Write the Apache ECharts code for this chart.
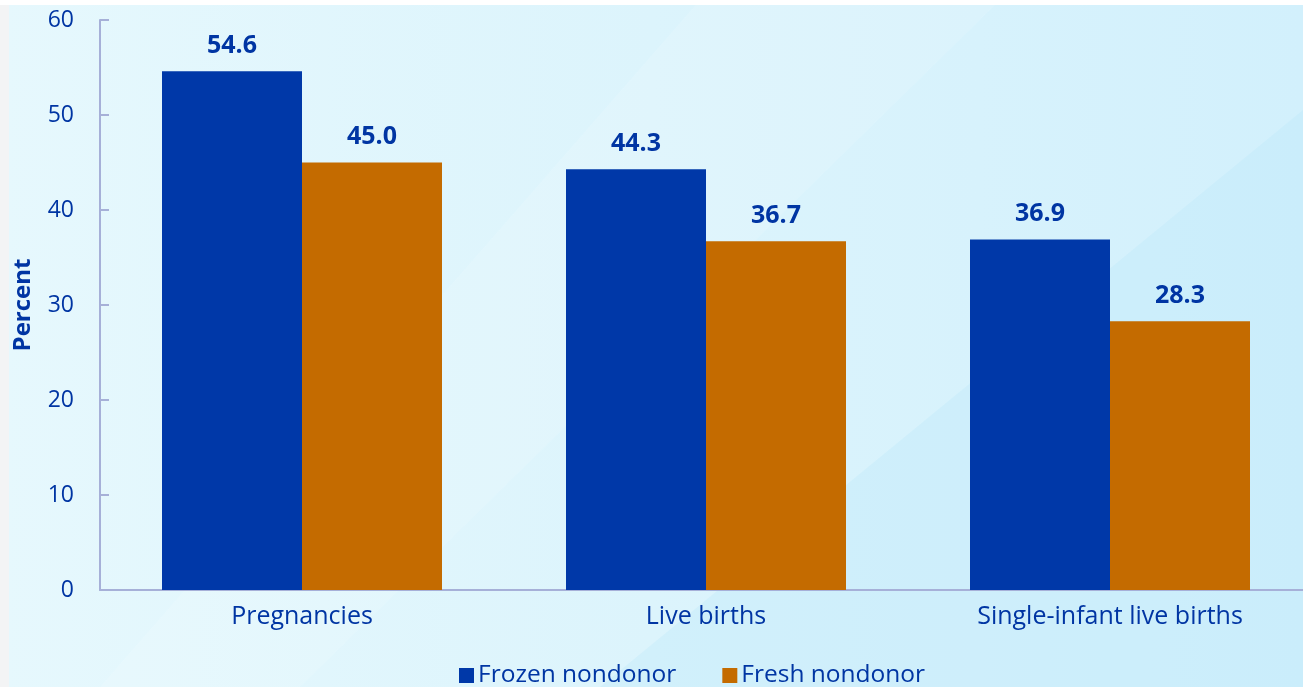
<!DOCTYPE html>
<html>
<head>
<meta charset="utf-8">
<script src="https://cdn.jsdelivr.net/npm/echarts@6/dist/echarts.min.js"></script>
<style>
html,body{margin:0;padding:0;background:#fff;}
#c{width:1303px;height:687px;}
</style>
</head>
<body>
<div id="c"></div>
<script>
const categories = ['Pregnancies', 'Live births', 'Single-infant live births'];
const frozenValues = [54.6, 44.3, 36.9];
const freshValues = [45.0, 36.7, 28.3];
const seriesNames = ['Frozen nondonor', 'Fresh nondonor'];
const yTicks = [0, 10, 20, 30, 40, 50, 60];

const textColor = '#0035a3';
const fontFam = '"Open Sans", "Noto Sans", sans-serif';
const chart = echarts.init(document.getElementById('c'), null, {renderer: 'canvas'});

const option = {
  animation: false,
  backgroundColor: {
    type: 'linear', x: 0, y: 0, x2: 1, y2: 0,
    colorStops: [{offset: 0, color: '#e6f8fd'}, {offset: 0.5, color: '#dcf4fc'}, {offset: 1, color: '#d2f0fc'}]
  },
  graphic: [
    {type: 'rect', left: 0, top: 0, shape: {width: 9, height: 687}, style: {fill: '#f3f4f5'}, z: -1},
    {type: 'rect', left: 0, top: 0, shape: {width: 1303, height: 5}, style: {fill: '#ffffff'}, z: -1},
    {type: 'polygon', shape: {points: [[1303, 110], [1303, 687], [600, 687]]}, style: {fill: 'rgba(190,232,250,0.35)'}, z: -1},
    {type: 'polygon', shape: {points: [[700, 0], [1000, 0], [300, 687], [100, 687]]}, style: {fill: 'rgba(255,255,255,0.12)'}, z: -1}
  ],
  grid: {left: 100, top: 20, width: 1212, height: 570, containLabel: false, outerBoundsMode: 'none'},
  legend: {
    data: seriesNames,
    left: 454, top: 658,
    itemWidth: 15, itemHeight: 15, itemGap: 46,
    icon: 'rect',
    textStyle: {color: textColor, fontSize: 24.5, fontFamily: fontFam, padding: [0, 0, 0, -1]}
  },
  xAxis: {
    type: 'category',
    data: categories,
    axisLine: {lineStyle: {color: '#a6b0d8', width: 2}},
    axisTick: {show: false},
    axisLabel: {color: textColor, fontSize: 25, fontFamily: fontFam, margin: 14}
  },
  yAxis: {
    type: 'value',
    min: 0, max: 60, interval: 10,
    name: 'Percent',
    nameLocation: 'middle',
    nameGap: 65,
    nameRotate: 90,
    nameTextStyle: {color: textColor, fontSize: 24, fontWeight: 'bold', fontFamily: fontFam},
    axisLine: {show: true, lineStyle: {color: '#a6b0d8', width: 2}},
    axisTick: {show: true, inside: true, length: 9, lineStyle: {color: '#a6b0d8', width: 2}},
    splitLine: {show: false},
    axisLabel: {
      color: textColor, fontSize: 23, fontFamily: fontFam, margin: 26,
      formatter: v => yTicks.includes(v) ? String(v) : ''
    }
  },
  series: [
    {
      name: seriesNames[0], type: 'bar', data: frozenValues,
      barWidth: 140, barGap: '0%',
      itemStyle: {color: '#0038a8'},
      label: {show: true, position: 'top', distance: 13, color: textColor, fontSize: 25, fontWeight: 'bold', fontFamily: fontFam,
        formatter: p => p.value.toFixed(1)}
    },
    {
      name: seriesNames[1], type: 'bar', data: freshValues,
      barWidth: 140,
      itemStyle: {color: '#c46b00'},
      label: {show: true, position: 'top', distance: 13, color: textColor, fontSize: 25, fontWeight: 'bold', fontFamily: fontFam,
        formatter: p => p.value.toFixed(1)}
    }
  ]
};
chart.setOption(option);
</script>
</body>
</html>
